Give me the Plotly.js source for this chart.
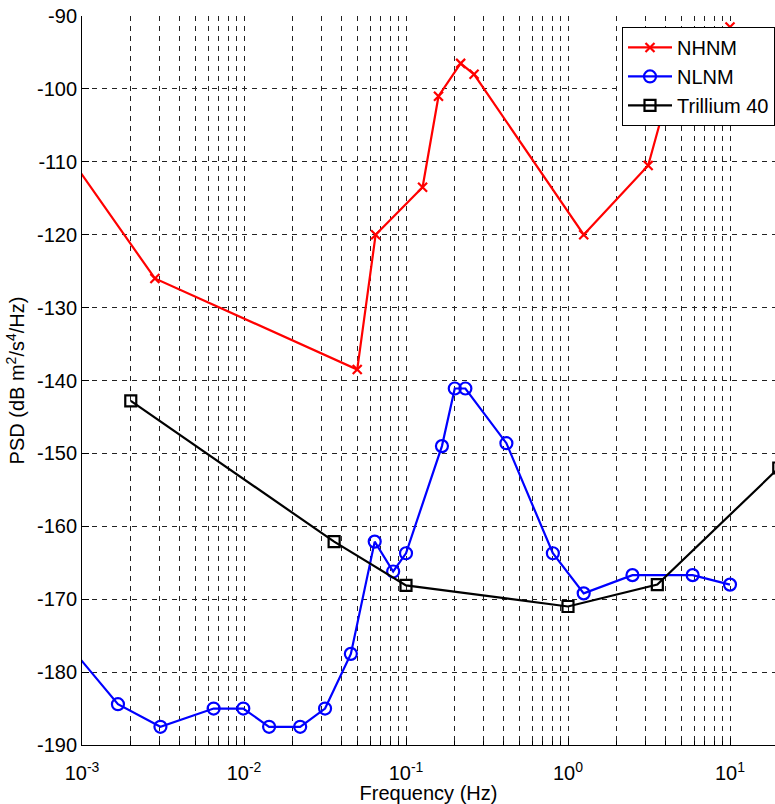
<!DOCTYPE html>
<html>
<head>
<meta charset="utf-8">
<script src="https://cdn.plot.ly/plotly-3.0.1.min.js"></script>
<style>
html,body{margin:0;padding:0;background:#fff;overflow:hidden;}
#chart{width:775px;height:804px;}
</style>
</head>
<body>
<div id="chart"></div>
<script>
// Frequencies (Hz) and PSD values (dB m^2/s^4/Hz)
var nhnmFreq = [0.00001, 0.002818, 0.05, 0.06494, 0.12658, 0.15873, 0.21739, 0.26316, 1.25, 3.125, 4.5455, 10];
var nhnmPsd  = [-48.5, -126.0, -138.5, -120.0, -113.5, -101.0, -96.5, -98.0, -120.0, -110.5, -97.4, -91.5];

var nlnmFreq = [0.0001, 0.001667, 0.003049, 0.006494, 0.009901, 0.014286, 0.022222, 0.031646, 0.045662, 0.064103, 0.083333, 0.1, 0.166667, 0.2, 0.232558, 0.416667, 0.806452, 1.25, 2.5, 5.882, 10];
var nlnmPsd  = [-151.9, -184.4, -187.5, -185.0, -185.0, -187.5, -187.5, -185.0, -177.5, -162.1, -166.2, -163.7, -149.0, -141.1, -141.1, -148.6, -163.7, -169.2, -166.7, -166.7, -168.0];

var trilFreq = [0.002, 0.036, 0.1, 1.0, 3.56, 20];
var trilPsd  = [-142.8, -162.1, -168.1, -171.0, -168.0, -152.0];

var xTickVals = [0.001, 0.01, 0.1, 1, 10];
var xTickText = ['10<sup>-3</sup>', '10<sup>-2</sup>', '10<sup>-1</sup>', '10<sup>0</sup>', '10<sup>1</sup>'];

var yTickVals = [-190, -180, -170, -160, -150, -140, -130, -120, -110, -100, -90];
var yTickText = ['-190', '-180', '-170', '-160', '-150', '-140', '-130', '-120', '-110', '-100', '-90'];

var minorVals = [];
[0.001, 0.01, 0.1, 1, 10].forEach(function (d) {
  for (var k = 2; k <= 9; k++) minorVals.push(d * k);
});

var FONT = 'Liberation Sans, Arial, sans-serif';

var traces = [
  {
    x: nhnmFreq, y: nhnmPsd, name: 'NHNM', type: 'scatter', mode: 'lines+markers',
    line: {color: '#ff0000', width: 2.2},
    marker: {symbol: 'x-thin-open', size: 9, color: '#ff0000', line: {color: '#ff0000', width: 2.2}}
  },
  {
    x: nlnmFreq, y: nlnmPsd, name: 'NLNM', type: 'scatter', mode: 'lines+markers',
    line: {color: '#0000ff', width: 2.2},
    marker: {symbol: 'circle-open', size: 12, color: '#0000ff', line: {color: '#0000ff', width: 2.2}}
  },
  {
    x: trilFreq, y: trilPsd, name: 'Trillium 40', type: 'scatter', mode: 'lines+markers',
    line: {color: '#000000', width: 2.2},
    marker: {symbol: 'square-open', size: 11, color: '#000000', line: {color: '#000000', width: 2.2}}
  }
];

var layout = {
  width: 775, height: 804,
  margin: {l: 82, r: 0, t: 16, b: 59, pad: 0},
  paper_bgcolor: '#fff', plot_bgcolor: '#fff',
  font: {family: FONT, size: 20, color: '#000'},
  showlegend: true,
  legend: {
    x: 1.0, xanchor: 'right', y: 0.985, yanchor: 'top',
    bgcolor: '#fff', bordercolor: '#000', borderwidth: 1,
    font: {family: FONT, size: 20, color: '#000'},
    tracegroupgap: 0, itemwidth: 44
  },
  xaxis: {
    type: 'log', range: [-3, 1.2778],
    tickmode: 'array', tickvals: xTickVals, ticktext: xTickText,
    ticks: 'inside', ticklen: 7, tickcolor: '#000', tickwidth: 1,
    ticklabelstandoff: 10,
    showline: true, linecolor: '#000', linewidth: 1, mirror: false,
    showgrid: true, gridcolor: '#222', gridwidth: 1, griddash: '5px,5px',
    zeroline: false,
    tickfont: {family: FONT, size: 20, color: '#000'},
    minor: {
      tickmode: 'array', tickvals: minorVals,
      ticks: 'inside', ticklen: 4, tickcolor: '#000',
      showgrid: true, gridcolor: '#222', gridwidth: 1, griddash: '5px,5px'
    },
    title: {text: 'Frequency (Hz)', font: {family: FONT, size: 20, color: '#000'}, standoff: 0}
  },
  yaxis: {
    range: [-190, -90], tickmode: 'array', tickvals: yTickVals, ticktext: yTickText,
    ticks: 'inside', ticklen: 7, tickcolor: '#000', tickwidth: 1,
    showline: true, linecolor: '#000', linewidth: 1, mirror: false,
    showgrid: true, gridcolor: '#222', gridwidth: 1, griddash: '5px,5px',
    zeroline: false,
    tickfont: {family: FONT, size: 20, color: '#000'},
    title: {text: 'PSD (dB m<sup>2</sup>/s<sup>4</sup>/Hz)', font: {family: FONT, size: 20, color: '#000'}, standoff: 6}
  }
};

Plotly.newPlot('chart', traces, layout, {displayModeBar: false, staticPlot: true});
</script>
</body>
</html>
